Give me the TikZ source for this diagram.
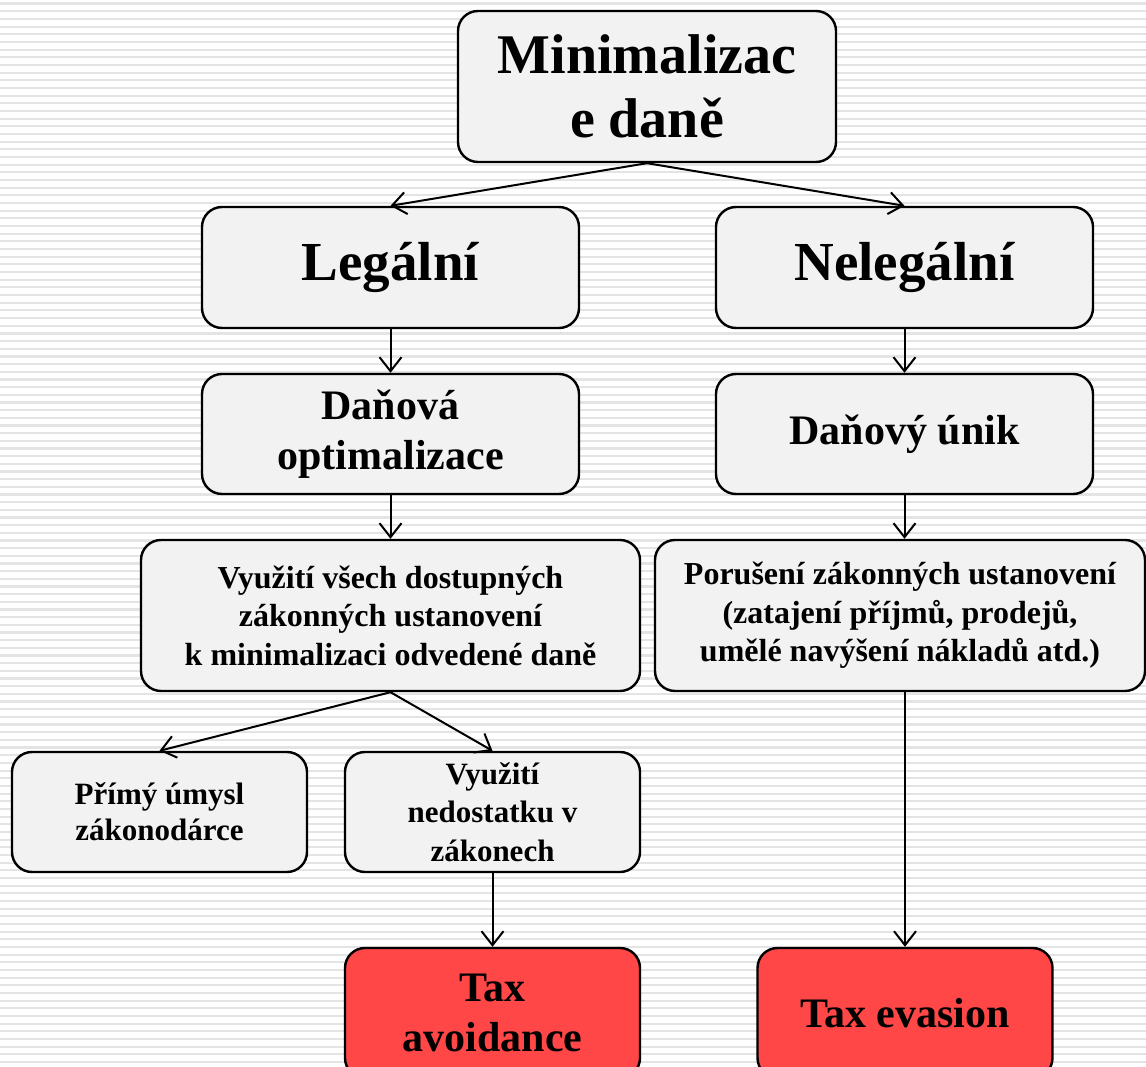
\documentclass[tikz,border=0pt]{standalone}
\usepackage{fontspec}
\setmainfont{Liberation Serif}
\usetikzlibrary{arrows.meta}
\definecolor{boxgray}{HTML}{F2F2F2}
\definecolor{boxred}{HTML}{FF4747}
\definecolor{stripe}{HTML}{E4E4E4}
\tikzset{
  box/.style={draw, line width=2.4pt, rounded corners=20pt, fill=boxgray, align=center, inner sep=0pt, font=\bfseries},
  redbox/.style={box, fill=boxred},
  arr/.style={-{Straight Barb[length=14pt,width=22pt,line width=2pt]}, line width=2pt},
}
\newcommand{\fs}[2]{\fontsize{#1}{#2}\selectfont}
\begin{document}
\begin{tikzpicture}[x=1pt, y=-1pt]
\useasboundingbox (0,0) rectangle (1146,1067);
\clip (0,0) rectangle (1146,1067);
\fill[white] (0,0) rectangle (1146,1067);
\foreach \k in {0,...,139}
  \fill[stripe] (0,2.5+7.67*\k) rectangle ++(1146,2.2);
% top
\node[box, minimum width=378pt, minimum height=151pt, font=\bfseries\fs{56}{64}] (top) at (647,86.5) {Minimalizac\\e daně};
% second row
\node[box, minimum width=377pt, minimum height=121pt, font=\bfseries\fs{55}{62}] (legal) at (390.5,267.5) {Legální};
\node[box, minimum width=377pt, minimum height=121pt, font=\bfseries\fs{55}{62}] (illegal) at (904.5,267.5) {Nelegální};
% third row
\node[box, minimum width=377pt, minimum height=120pt, font=\bfseries\fs{42}{50}] (optim) at (390.5,434) {Daňová\\optimalizace};
\node[box, minimum width=377pt, minimum height=120pt, font=\bfseries\fs{42}{50}] (unik) at (904.5,434) {Daňový únik};
% fourth row
\node[box, minimum width=499pt, minimum height=151pt, font=\bfseries\fs{32}{38.5}] (vyuziti) at (390.5,615.5) {Využití všech dostupných\\zákonných ustanovení\\k minimalizaci odvedené daně};
\node[box, minimum width=490pt, minimum height=151pt, font=\bfseries\fs{32}{38.5}] (poruseni) at (900,615.5) {Porušení zákonných ustanovení\\(zatajení příjmů, prodejů,\\umělé navýšení nákladů atd.)};
% fifth row
\node[box, minimum width=295pt, minimum height=120pt, font=\bfseries\fs{31}{36}] (umysl) at (159.5,812) {Přímý úmysl\\zákonodárce};
\node[box, minimum width=295pt, minimum height=120pt, font=\bfseries\fs{31}{38.5}] (nedostatek) at (492.5,812) {Využití\\nedostatku v\\zákonech};
% results
\node[redbox, minimum width=295pt, minimum height=130pt, font=\bfseries\fs{42}{50}] (avoid) at (492.5,1013) {Tax\\avoidance};
\node[redbox, minimum width=295pt, minimum height=130pt, font=\bfseries\fs{42}{50}] (evasion) at (905,1013) {Tax evasion};
% arrows
\draw[arr] (top.south) -- (legal.north);
\draw[arr] (top.south) -- (illegal.north);
\draw[arr] (legal) -- (optim);
\draw[arr] (illegal) -- (unik);
\draw[arr] (optim) -- (vyuziti);
\draw[arr] (unik.south) -- (unik.south |- poruseni.north);
\draw[arr] (vyuziti.south) -- (umysl.north);
\draw[arr] (vyuziti.south) -- (nedostatek.north);
\draw[arr] (nedostatek) -- (avoid);
\draw[arr] (poruseni.south -| evasion.north) -- (evasion.north);
\end{tikzpicture}
\end{document}
